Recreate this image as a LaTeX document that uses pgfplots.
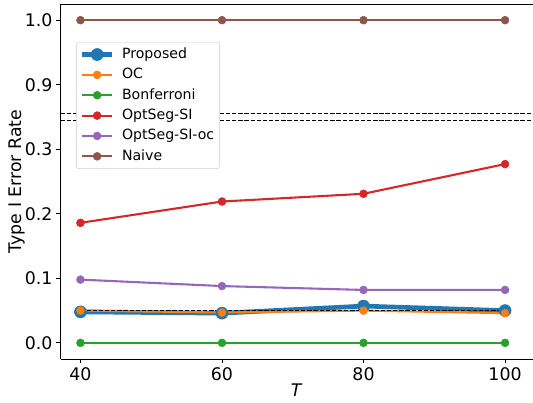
\documentclass[border=0pt]{standalone}
\usepackage{fontspec}
\setmainfont{DejaVu Sans}
\usepackage{pgfplots}
\pgfplotsset{compat=1.18}
\definecolor{c0}{HTML}{1F77B4}
\definecolor{c1}{HTML}{FF7F0E}
\definecolor{c2}{HTML}{2CA02C}
\definecolor{c3}{HTML}{D62728}
\definecolor{c4}{HTML}{9467BD}
\definecolor{c5}{HTML}{8C564B}
\begin{document}
\begin{tikzpicture}
\begin{axis}[name=ax, scale only axis, width=408.4pt, height=306.8pt,
  xmin=37.18, xmax=103.95, ymin=-0.025, ymax=0.525,
  y coord trafo/.code={\pgfmathparse{#1>0.6 ? #1-0.5 : #1}},
  axis x line*=bottom, axis y line*=left,
  axis line style={-, line width=0.8pt, black},
  xtick={40,60,80,100},
  ytick={0,0.1,0.2,0.3,0.4,0.5},
  yticklabels={0.0,0.1,0.2,0.3,0.9,1.0},
  tick align=outside, major tick length=3.5pt,
  tick style={black, line width=0.8pt},
  tick label style={font=\fontsize{15}{18}\selectfont},
  /pgf/number format/assume math mode=true,
  xlabel={\textit{T}}, ylabel={Type I Error Rate},
  label style={font=\fontsize{15}{18}\selectfont},
  xlabel style={yshift=4pt},
  ylabel style={at={(axis description cs:-0.092,0.5)}, anchor=center},
  legend cell align=left,
  legend style={at={(axis description cs:0.033,0.893)}, anchor=north west,
    font=\fontsize{12.2}{14.5}\selectfont, draw=black!20, rounded corners=2pt,
    fill=white, inner xsep=3pt, inner ysep=2.5pt, row sep=1.4pt,
    nodes={inner sep=1.5pt, text height=10pt, text depth=3.2pt},
    column sep=5pt},
  legend image code/.code={\draw[mark repeat=2,mark phase=2,#1] plot coordinates {(0pt,0pt) (13pt,0pt) (26pt,0pt)};},
]
\addplot[c0, line width=4pt, mark=*, mark size=5.2pt, mark options={solid, fill=c0, draw=c0, line width=0.5pt}]
  coordinates {(40,0.048) (60,0.046) (80,0.057) (100,0.050)};
\addlegendentry{Proposed}
\addplot[c1, line width=1.8pt, mark=*, mark size=3.4pt, mark options={solid, fill=c1, draw=c1, line width=0.5pt}]
  coordinates {(40,0.050) (60,0.047) (80,0.050) (100,0.046)};
\addlegendentry{OC}
\addplot[c2, line width=1.8pt, mark=*, mark size=3.4pt, mark options={solid, fill=c2, draw=c2, line width=0.5pt}]
  coordinates {(40,0.0) (60,0.0) (80,0.0) (100,0.0)};
\addlegendentry{Bonferroni}
\addplot[c3, line width=1.8pt, mark=*, mark size=3.4pt, mark options={solid, fill=c3, draw=c3, line width=0.5pt}]
  coordinates {(40,0.186) (60,0.219) (80,0.231) (100,0.277)};
\addlegendentry{OptSeg-SI}
\addplot[c4, line width=1.8pt, mark=*, mark size=3.4pt, mark options={solid, fill=c4, draw=c4, line width=0.5pt}]
  coordinates {(40,0.098) (60,0.088) (80,0.082) (100,0.082)};
\addlegendentry{OptSeg-SI-oc}
\addplot[c5, line width=1.8pt, mark=*, mark size=3.4pt, mark options={solid, fill=c5, draw=c5, line width=0.5pt}]
  coordinates {(40,1.0) (60,1.0) (80,1.0) (100,1.0)};
\addlegendentry{Naive}
\addplot[forget plot, black, line width=1pt, dash pattern=on 3.7pt off 1.6pt]
  coordinates {(40,0.05) (100,0.05)};
\addplot[forget plot, black, line width=0.8pt, dash pattern=on 3.7pt off 1.6pt]
  coordinates {(37.18,0.345) (103.95,0.345)};
\addplot[forget plot, black, line width=0.8pt, dash pattern=on 3.7pt off 1.6pt]
  coordinates {(37.18,0.355) (103.95,0.355)};
\draw[line width=0.8pt] (rel axis cs:0,1) -- (rel axis cs:1,1);
\end{axis}
\pgfresetboundingbox
\path ([xshift=-52.3pt,yshift=-37.2pt]ax.south west) rectangle ([yshift=3.5pt]ax.north east);
\end{tikzpicture}
\end{document}
